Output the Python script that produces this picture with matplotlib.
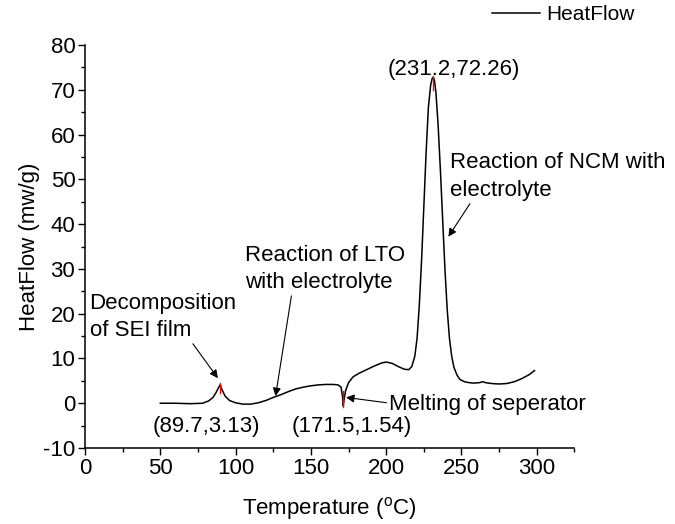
import matplotlib
matplotlib.use("Agg")
import matplotlib.pyplot as plt
from matplotlib.ticker import MultipleLocator

plt.rcParams['font.family'] = ['Liberation Sans', 'DejaVu Sans']
plt.rcParams['axes.unicode_minus'] = False

# DSC curve
temp = [50, 60, 70, 78, 82, 85, 87, 88.5, 89.7, 91, 93, 96, 100, 105, 110, 115,
        120, 125, 130, 135, 140, 145, 150, 155, 160, 165, 168, 170, 171, 171.5,
        172, 173, 175, 178, 182, 187, 192, 197, 200, 204, 208, 212, 215, 217,
        219, 220.5, 222, 223.5, 225, 226.5, 228, 229.5, 230.5, 231.2, 232,
        233, 234.5, 236, 237.5, 239, 240.5, 242, 243.5, 245, 247, 249, 252,
        255, 258, 262, 264, 266, 270, 275, 280, 285, 290, 295, 298.5]
heat = [0.0, 0.0, -0.1, 0.0, 0.5, 1.3, 2.4, 3.4, 4.1, 3.0, 1.6, 0.6, 0.1, -0.2,
        -0.2, 0.1, 0.6, 1.3, 1.9, 2.6, 3.2, 3.6, 3.9, 4.1, 4.2, 4.2, 4.1, 3.6,
        1.5, -0.6, 0.8, 2.8, 4.6, 5.9, 6.7, 7.5, 8.3, 9.0, 9.2, 8.9, 8.2, 7.6,
        7.5, 8.2, 10.5, 14.5, 22, 32, 44, 56, 66, 71, 72.5, 72.8, 72.2, 69.5,
        62, 52, 41, 30, 21, 14.5, 10.5, 8.0, 6.3, 5.3, 4.8, 4.6, 4.5, 4.6,
        4.8, 4.6, 4.4, 4.3, 4.4, 4.8, 5.5, 6.4, 7.3]

peak_x = [89.7, 171.5, 231.2]
peak_lo = [2.3, -0.8, 70.0]
peak_hi = [4.6, 2.8, 73.0]

fig = plt.figure(figsize=(6.75, 5.24), dpi=100)
ax = fig.add_axes([0.126, 0.145, 0.725, 0.769])

line, = ax.plot(temp, heat, color='black', lw=1.1, label='HeatFlow')
for px, lo, hi in zip(peak_x, peak_lo, peak_hi):
    ax.plot([px, px], [lo, hi], color='red', lw=1.0)

ax.set_xlim(0, 325)
ax.set_ylim(-10, 80)
ax.xaxis.set_major_locator(MultipleLocator(50))
ax.xaxis.set_minor_locator(MultipleLocator(25))
ax.yaxis.set_major_locator(MultipleLocator(10))
ax.yaxis.set_minor_locator(MultipleLocator(5))
ax.spines['top'].set_visible(False)
ax.spines['right'].set_visible(False)
for s in ['left', 'bottom']:
    ax.spines[s].set_linewidth(1.1)
ax.tick_params(which='major', direction='out', length=5, width=1.0, labelsize=16, pad=2)
ax.tick_params(which='minor', direction='out', length=3, width=1.0)

ax.set_xlabel('Temperature ($\\mathregular{^{o}}$C)', fontsize=16, labelpad=12)
ax.set_ylabel('HeatFlow (mw/g)', fontsize=16, labelpad=2)

fs = 16
ls = 1.4
ax.text(244.7, 74.6, '(231.2,72.26)', fontsize=fs, ha='center', va='center')
ax.text(80.5, -5.2, '(89.7,3.13)', fontsize=fs, ha='center', va='center')
ax.text(177, -5.2, '(171.5,1.54)', fontsize=fs, ha='center', va='center')

ax.annotate('Reaction of NCM with\nelectrolyte', xy=(241.3, 37.2), xytext=(242.5, 50.6),
            fontsize=fs, ha='left', va='center', linespacing=ls,
            arrowprops=dict(arrowstyle='-|>', color='black', lw=0.8,
                            shrinkA=0, shrinkB=0, mutation_scale=12,
                            relpos=(0.1, 0.0)))
ax.annotate('Reaction of LTO\nwith electrolyte', xy=(126.5, 1.6), xytext=(106.5, 30.0),
            fontsize=fs, ha='left', va='center', linespacing=ls,
            arrowprops=dict(arrowstyle='-|>', color='black', lw=0.8,
                            shrinkA=0, shrinkB=0, mutation_scale=12,
                            relpos=(0.29, 0.0)))
ax.annotate('Decomposition\nof SEI film', xy=(88.2, 5.6), xytext=(3, 19.3),
            fontsize=fs, ha='left', va='center', linespacing=ls,
            arrowprops=dict(arrowstyle='-|>', color='black', lw=0.8,
                            shrinkA=0, shrinkB=0, mutation_scale=12,
                            relpos=(0.66, 0.12)))
ax.annotate('Melting of seperator', xy=(173.3, 1.3), xytext=(202, -0.2),
            fontsize=fs, ha='left', va='center',
            arrowprops=dict(arrowstyle='-|>', color='black', lw=0.8,
                            shrinkA=0, shrinkB=0, mutation_scale=12,
                            relpos=(0.0, 0.55)))

fig.legend(handles=[line], loc='center left', bbox_to_anchor=(492 / 675, 1 - 15 / 524),
           frameon=False, fontsize=15, handlelength=2.3, handletextpad=0.3,
           borderpad=0, borderaxespad=0)

fig.savefig('out.png', dpi=100)
